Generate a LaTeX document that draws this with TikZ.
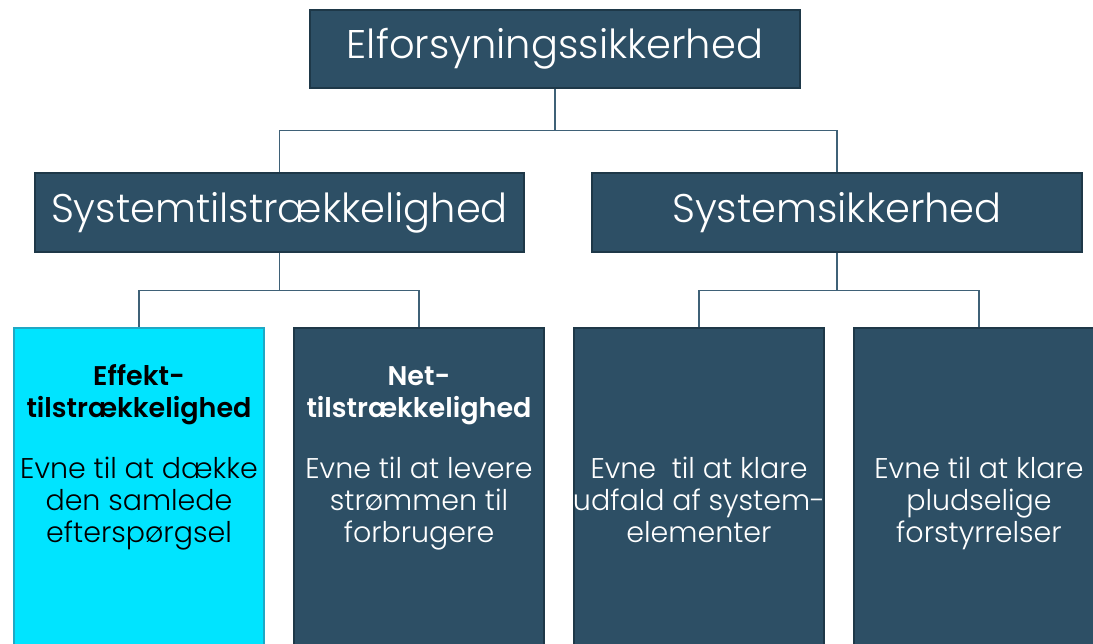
\documentclass[tikz,border=0pt]{standalone}
\usepackage{fontspec}
\setmainfont{Poppins}[UprightFont=* Light, BoldFont=* SemiBold]
\begin{document}
\begin{tikzpicture}[x=1pt,y=-1pt,
  darkbox/.style={draw=boxedge, fill=boxfill, line width=1.6pt, text=white, inner sep=0pt},
  lightbox/.style={draw=cyanedge, fill=cyanfill, line width=1.6pt, inner sep=0pt},
  link/.style={draw=linkcol, line width=1.3pt},
  headfont/.style={font=\fontsize{40}{44}\selectfont},
  leaftext/.style={align=center, font=\fontsize{28.5}{32}\selectfont, inner sep=0pt, anchor=base}
]
\definecolor{boxfill}{HTML}{2D4F65}
\definecolor{boxedge}{HTML}{1E3848}
\definecolor{cyanfill}{HTML}{00E4FF}
\definecolor{cyanedge}{HTML}{20A8C4}
\definecolor{linkcol}{HTML}{3F6177}
\useasboundingbox (0,0) rectangle (1093,643);
\clip (0,0) rectangle (1093,643);
\fill[white] (0,0) rectangle (1093,643);

% top level
\node[darkbox, headfont, minimum width=490, minimum height=78] (root) at (555,49) {Elforsyningssikkerhed};

% second level
\node[darkbox, headfont, minimum width=489, minimum height=79] (adeq) at (279.5,212.5) {Systemtilstrækkelighed};
\node[darkbox, headfont, minimum width=490, minimum height=79] (secu) at (837,212.5) {Systemsikkerhed};

% third level (boxes run past the lower edge)
\node[lightbox, anchor=north, minimum width=250, minimum height=360] (effekt) at (139,327) {};
\node[darkbox, anchor=north, minimum width=250, minimum height=360] (net) at (419,327) {};
\node[darkbox, anchor=north, minimum width=250, minimum height=360] (udfald) at (699,327) {};
\node[darkbox, anchor=north, minimum width=250, minimum height=360] (pludselig) at (979,327) {};

% connectors
\draw[link] (root.south) -- ++(0,42) -| (adeq.north);
\draw[link] (root.south) -- ++(0,42) -| (secu.north);
\draw[link] (adeq.south) -- ++(0,38) -| (effekt.north);
\draw[link] (adeq.south) -- ++(0,38) -| (net.north);
\draw[link] (secu.south) -- ++(0,38) -| (udfald.north);
\draw[link] (secu.south) -- ++(0,38) -| (pludselig.north);

% texts of the third level (anchored at the baseline of the last line)
\node[leaftext] (t1) at (139,542) {{\fontsize{27}{32}\selectfont\bfseries Effekt-}\\{\fontsize{27}{32}\selectfont\bfseries tilstrækkelighed}\\[29pt]Evne til at dække\\den samlede\\efterspørgsel};
\node[leaftext, text=white] (t2) at (419,542) {{\fontsize{27}{32}\selectfont\bfseries Net-}\\{\fontsize{27}{32}\selectfont\bfseries tilstrækkelighed}\\[29pt]Evne til at levere\\strømmen til\\forbrugere};
\node[leaftext, text=white] (t3) at (699,542) {Evne\ \ til at klare\\udfald af system-\\elementer};
\node[leaftext, text=white] (t4) at (979,542) {Evne til at klare\\pludselige\\forstyrrelser};
\end{tikzpicture}
\end{document}
